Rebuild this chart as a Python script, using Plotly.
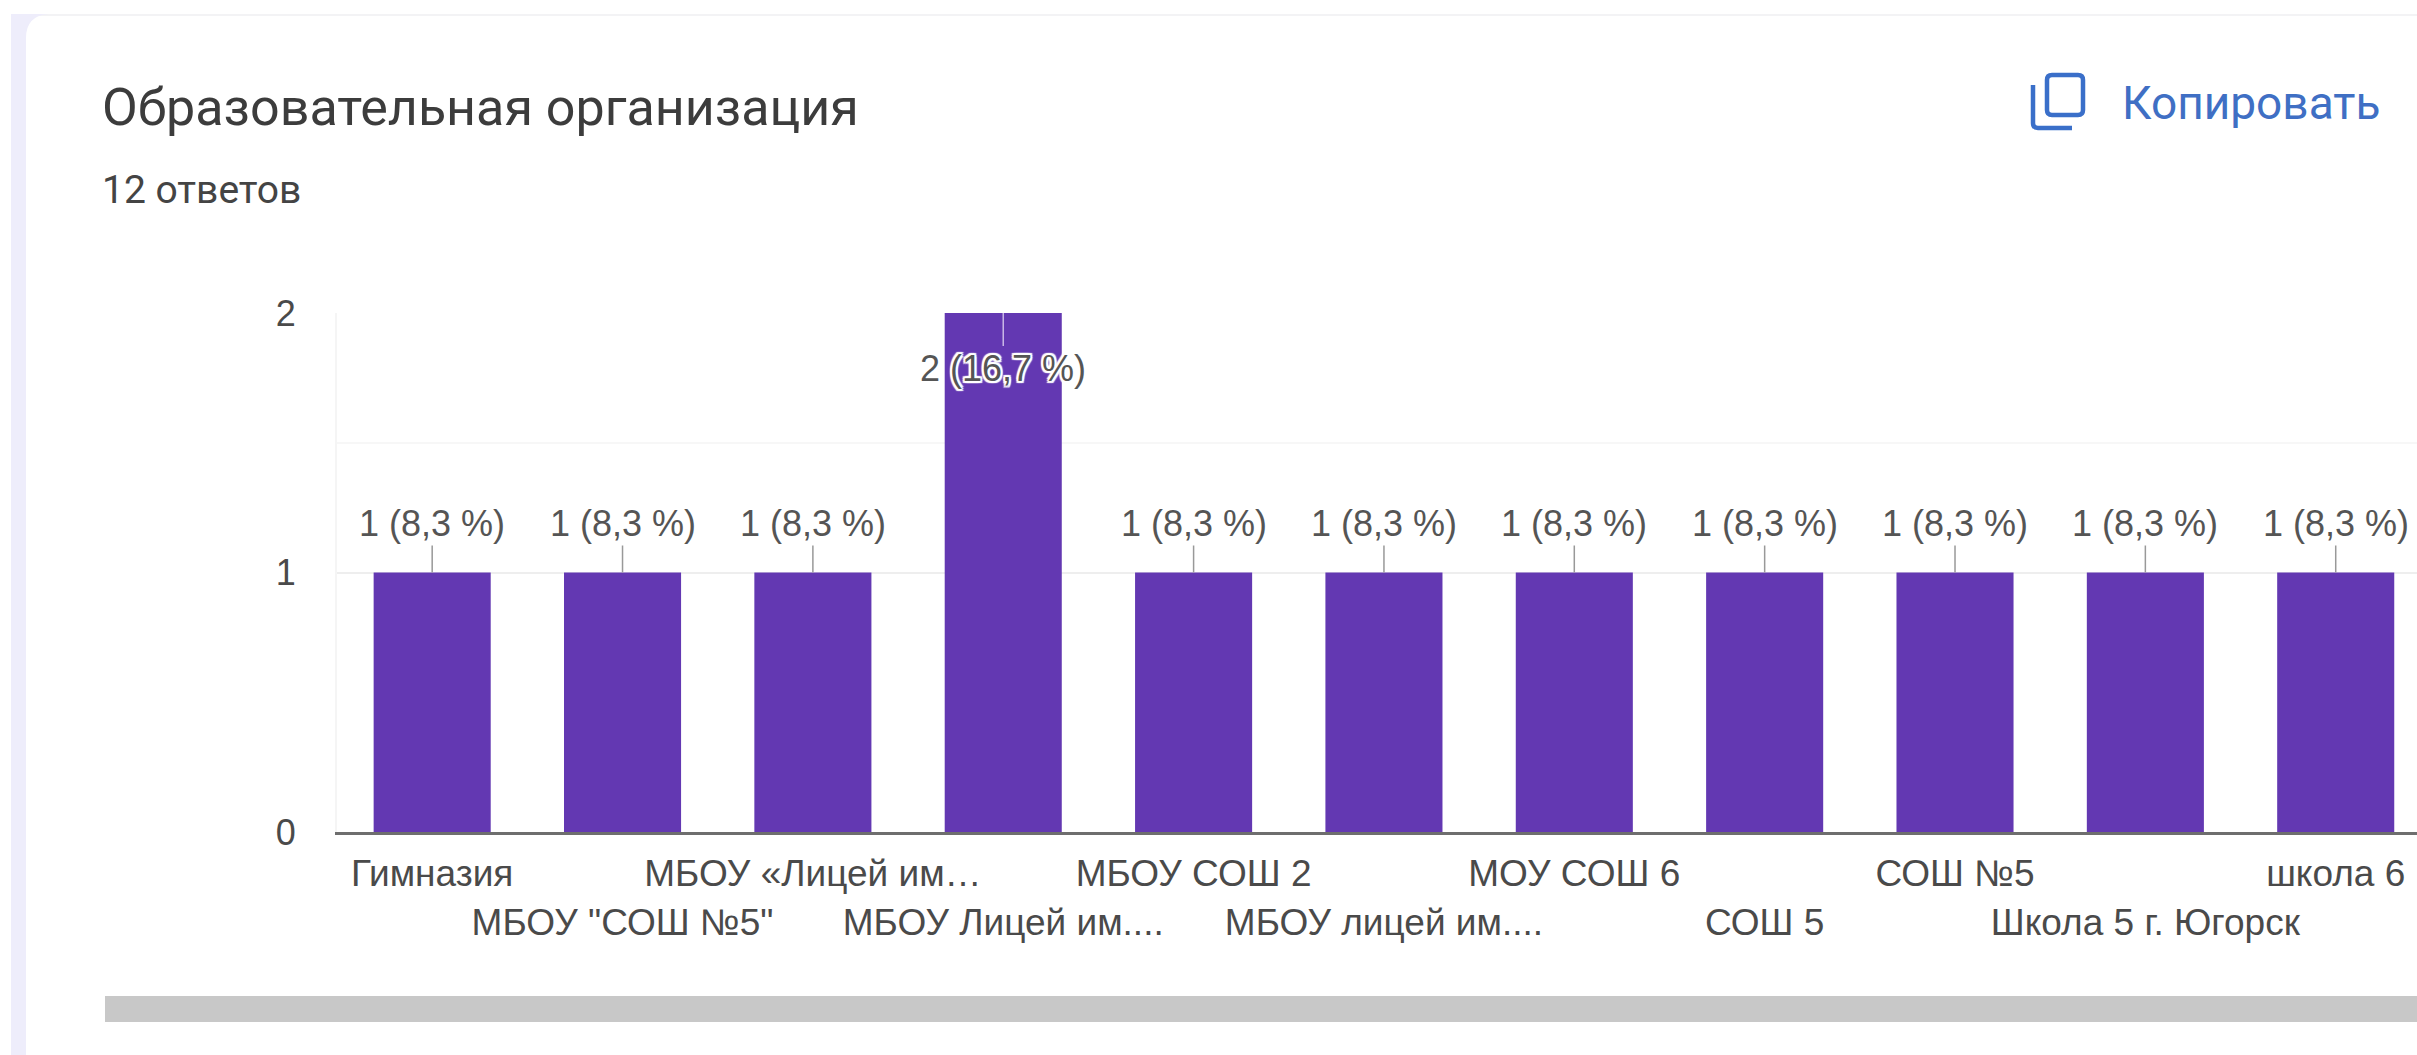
import plotly.graph_objects as go

W, H = 2417, 1055
categories = ["Гимназия", 'МБОУ "СОШ №5"', "МБОУ «Лицей им…", "МБОУ Лицей им....", "МБОУ СОШ 2",
              "МБОУ лицей им....", "МОУ СОШ 6", "СОШ 5", "СОШ №5", "Школа 5 г. Югорск", "школа 6"]
values = [1, 1, 1, 2, 1, 1, 1, 1, 1, 1, 1]
value_labels = ["1 (8,3 %)", "1 (8,3 %)", "1 (8,3 %)", "2 (16,7 %)", "1 (8,3 %)", "1 (8,3 %)",
                "1 (8,3 %)", "1 (8,3 %)", "1 (8,3 %)", "1 (8,3 %)", "1 (8,3 %)"]
y_ticks = [0, 1, 2]
title_text = "Образовательная организация"
subtitle_text = "12 ответов"
copy_text = "Копировать"

L, T, B = 337, 313, 832
PURPLE = "#6338b2"
FONT = "Liberation Sans"
# screen pixel -> plot-area (paper) fraction
px = lambda v: (v - L) / (W - L)
py = lambda v: (B - v) / (B - T)

fig = go.Figure(go.Bar(x=list(range(len(categories))), y=values, width=0.615,
                       marker=dict(color=PURPLE, line_width=0), hoverinfo="skip"))

ticktext = [("<br>" + c if i % 2 else c) for i, c in enumerate(categories)]
HALO = ",".join(f"{dx}px {dy}px 1px #fff" for dx, dy in
                [(2, 0), (-2, 0), (0, 2), (0, -2), (2, 2), (-2, -2), (2, -2), (-2, 2)])
annotations = []
for i, (v, lab) in enumerate(zip(values, value_labels)):
    inside = v == max(values)
    annotations.append(dict(
        x=i, y=v, xref="x", yref="y", text=lab, showarrow=True, arrowhead=0, arrowwidth=1.5,
        arrowcolor="#c9b8e6" if inside else "#999999", ax=0, ay=55 if inside else -49,
        font=dict(family=FONT, size=36, color="#555555", shadow=HALO if inside else "none"),
    ))

def label(x, y, text, size, color, family="Roboto", weight="normal"):
    annotations.append(dict(x=px(x), y=py(y), xref="paper", yref="paper", text=text, showarrow=False,
                            xanchor="left", yanchor="middle", borderpad=0,
                            font=dict(family=family, size=size, color=color, weight=weight)))

label(101, 108, title_text, 52, "#3c3c3c")
label(101, 190, subtitle_text, 39, "#444444")
label(2121, 103, copy_text, 46, "#3f6fc4")

def rect(x0, y0, x1, y1, fill):
    return dict(type="rect", xref="paper", yref="paper", x0=px(x0), x1=px(x1), y0=py(y1), y1=py(y0),
                fillcolor=fill, line_width=0, layer="below")

ICON = dict(color="#3a6fc9", width=4.5)
shapes = [
    rect(11, 14, 26, 1055, "#eeedfb"),      # page strip left of the card
    rect(26, 14, 2417, 16, "#f3f3f5"),      # card's top edge
    dict(type="path", xref="paper", yref="paper", layer="below", line_width=0, fillcolor="#eeedfb",
         path=f"M {px(26)} {py(14)} L {px(48)} {py(14)} Q {px(26)} {py(16)} {px(26)} {py(38)} Z"),
    rect(105, 996, 2417, 1022, "#c8c8c8"),  # horizontal scrollbar
    # copy icon
    dict(type="path", xref="paper", yref="paper", line=ICON,
         path=(f"M {px(2052)} {py(75)} L {px(2078)} {py(75)} Q {px(2083)} {py(75)} {px(2083)} {py(80)} "
               f"L {px(2083)} {py(110)} Q {px(2083)} {py(115)} {px(2078)} {py(115)} L {px(2052)} {py(115)} "
               f"Q {px(2047)} {py(115)} {px(2047)} {py(110)} L {px(2047)} {py(80)} "
               f"Q {px(2047)} {py(75)} {px(2052)} {py(75)} Z")),
    dict(type="path", xref="paper", yref="paper", line=ICON,
         path=(f"M {px(2033)} {py(85)} L {px(2033)} {py(123)} Q {px(2033)} {py(128)} {px(2038)} {py(128)} "
               f"L {px(2072)} {py(128)}")),
]

fig.update_layout(
    width=W, height=H, autosize=False, showlegend=False,
    margin=dict(l=L, r=0, t=T, b=H - B, pad=0),
    paper_bgcolor="#ffffff", plot_bgcolor="#ffffff",
    annotations=annotations, shapes=shapes,
    xaxis=dict(type="linear", range=[-0.5, 10.427], tickvals=list(range(len(categories))),
               ticktext=ticktext, tickangle=0, showgrid=False, zeroline=False,
               showline=True, linecolor="#6e6e6e", linewidth=3, layer="below traces", ticks="",
               tickfont=dict(family=FONT, size=37, color="#4a4a4a"), ticklabelstandoff=7),
    yaxis=dict(range=[0, 2], tickvals=y_ticks, ticktext=[str(t) for t in y_ticks], ticks="",
               gridcolor="#eeeeee", gridwidth=2, zeroline=False, showline=True, linecolor="#f5f5f5",
               linewidth=2, tickfont=dict(family=FONT, size=36, color="#4a4a4a"), ticklabelstandoff=32,
               minor=dict(tickvals=[1.5], showgrid=True, gridcolor="#f7f7f7", gridwidth=2, ticks=""),
               layer="below traces"),
)
fig.write_html("out.html", config=dict(displayModeBar=False),
               default_width=f"{W}px", default_height=f"{H}px",
               post_script="document.body.style.margin='0';document.documentElement.style.overflow='hidden';")
